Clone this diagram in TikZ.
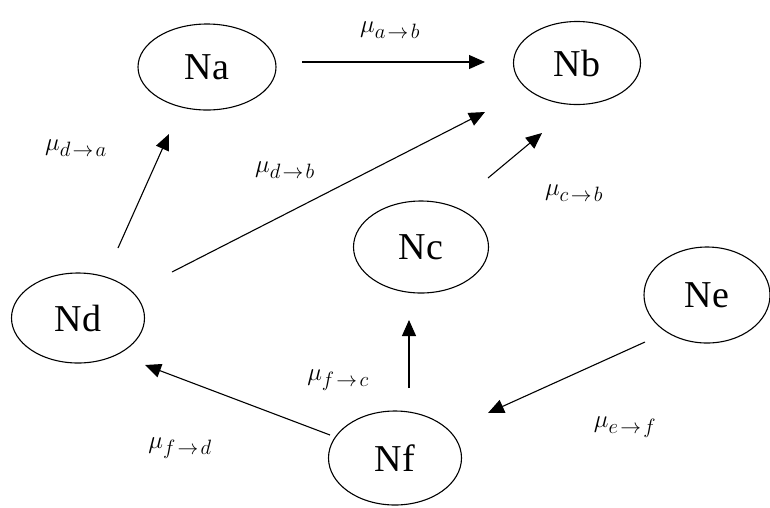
\documentclass[tikz,border=0pt]{standalone}
\usepackage{fontspec}
\setmainfont{Liberation Serif}
\newfontfamily\nodefont{Liberation Serif}
\usetikzlibrary{arrows.meta,shapes.geometric}
\newcommand{\mylab}[2]{$\mu_{\mbox{\fontsize{21}{23}\selectfont$#1\!\to\!#2$}}$}
\begin{document}
\begin{tikzpicture}[x=1pt,y=-1pt,
  nd/.style={draw,ellipse,line width=1.1pt,inner sep=0pt,font=\nodefont\fontsize{38}{40}\selectfont},
  arr/.style={line width=1.1pt,-{Triangle[length=16pt,width=14pt]}},
  lab/.style={inner sep=0pt,font=\fontsize{26}{28}\selectfont}]
\fill[white] (0,0) rectangle (770,507);
\useasboundingbox (0,0) rectangle (770,507);
\node[nd,minimum width=138pt,minimum height=86pt] (Na) at (207,67) {Na};
\node[nd,minimum width=127pt,minimum height=83pt] (Nb) at (577,63) {Nb};
\node[nd,minimum width=135pt,minimum height=92pt] (Nc) at (421,247) {Nc};
\node[nd,minimum width=133pt,minimum height=90pt] (Nd) at (78,318) {Nd};
\node[nd,minimum width=126pt,minimum height=96pt] (Ne) at (707,295) {Ne};
\node[nd,minimum width=133pt,minimum height=94pt] (Nf) at (395,458) {Nf};
\draw[arr] ([shift={(95,-5)}]Na.center) -- ([shift={(-92,-1)}]Nb.center);
\draw[arr] ([shift={(40,-70)}]Nd.center) -- ([shift={(-38,67)}]Na.center);
\draw[arr] ([shift={(94,-46)}]Nd.center) -- ([shift={(-92,49)}]Nb.center);
\draw[arr] ([shift={(67,-69)}]Nc.center) -- ([shift={(-35,70)}]Nb.center);
\draw[arr] ([shift={(14,-70)}]Nf.center) -- ([shift={(-12,73)}]Nc.center);
\draw[arr] ([shift={(-65,-23)}]Nf.center) -- ([shift={(67,47)}]Nd.center);
\draw[arr] ([shift={(-62,47)}]Ne.center) -- ([shift={(93,-45)}]Nf.center);
\node[lab] (lab) at (390,30) {\mylab{a}{b}};
\node[lab] (lda) at (76,148) {\mylab{d}{a}};
\node[lab] (ldb) at (285,170) {\mylab{d}{b}};
\node[lab] (lcb) at (574,193) {\mylab{c}{b}};
\node[lab] (lfc) at (338,380) {\mylab{f}{c}};
\node[lab] (lfd) at (180,448) {\mylab{f}{d}};
\node[lab] (lef) at (625,427) {\mylab{e}{f}};
\end{tikzpicture}
\end{document}
